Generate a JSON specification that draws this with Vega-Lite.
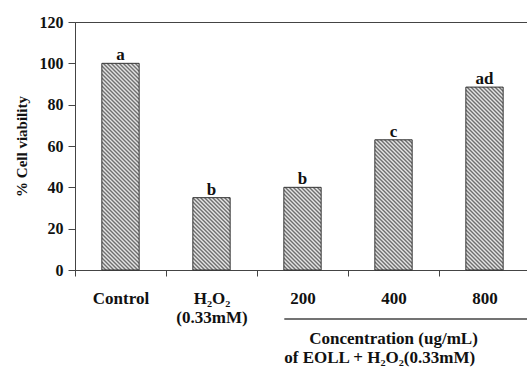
{
 "$schema": "https://vega.github.io/schema/vega-lite/v6.json",
 "width": 455, "height": 248,
 "autosize": "none",
 "padding": {"left": 75, "top": 22, "right": 0, "bottom": 97},
 "background": "white",
 "config": {"view": {"stroke": "#444", "strokeWidth": 1}, "font": "Liberation Serif"},
 "data": {"values": [
   {"group": "Control", "viability": 100, "sig": "a"},
   {"group": "H₂O₂ (0.33mM)", "viability": 35, "sig": "b"},
   {"group": "200", "viability": 40, "sig": "b"},
   {"group": "400", "viability": 63, "sig": "c"},
   {"group": "800", "viability": 88.5, "sig": "ad"}
 ]},
 "layer": [
   {"mark": {"type": "bar", "width": {"band": 0.41}, "stroke": "#333", "strokeWidth": 1},
    "encoding": {
     "x": {"field": "group", "type": "nominal", "sort": null,
       "scale": {"paddingInner": 0, "paddingOuter": 0},
       "axis": {"title": null, "labelAngle": 0, "labelFont": "Liberation Serif", "labelFontSize": 17, "labelFontWeight": "bold", "labelColor": "#111", "labelPadding": 14, "labelBaseline": "top", "labelLineHeight": 19, "labelExpr": "split(datum.label, ' ')", "tickBand": "extent", "tickSize": 6, "tickColor": "#444", "domainColor": "#444", "labelLimit": 0}},
     "y": {"field": "viability", "type": "quantitative",
       "scale": {"domain": [0, 120]},
       "axis": {"values": [0, 20, 40, 60, 80, 100, 120], "title": "% Cell viability", "titleFont": "Liberation Serif", "titleFontSize": 15, "titleFontWeight": "bold", "titleColor": "#111", "titlePadding": 10, "labelFont": "Liberation Serif", "labelFontSize": 16, "labelFontWeight": "bold", "labelColor": "#111", "labelPadding": 5, "tickSize": 7, "tickColor": "#444", "domainColor": "#444", "grid": false}},
     "fill": {
      "condition": [
        {"test": "datum.group === 'Control'", "value": {"gradient": "linear", "x1": 0, "y1": 1, "x2": 0.2114, "y2": -0.1713, "stops": [{"offset":0,"color":"#666"},{"offset":0.008,"color":"#eee"},{"offset":0.016,"color":"#666"},{"offset":0.024,"color":"#eee"},{"offset":0.032,"color":"#666"},{"offset":0.04,"color":"#eee"},{"offset":0.048,"color":"#666"},{"offset":0.056,"color":"#eee"},{"offset":0.064,"color":"#666"},{"offset":0.072,"color":"#eee"},{"offset":0.08,"color":"#666"},{"offset":0.088,"color":"#eee"},{"offset":0.096,"color":"#666"},{"offset":0.104,"color":"#eee"},{"offset":0.112,"color":"#666"},{"offset":0.12,"color":"#eee"},{"offset":0.128,"color":"#666"},{"offset":0.136,"color":"#eee"},{"offset":0.144,"color":"#666"},{"offset":0.152,"color":"#eee"},{"offset":0.16,"color":"#666"},{"offset":0.168,"color":"#eee"},{"offset":0.176,"color":"#666"},{"offset":0.184,"color":"#eee"},{"offset":0.192,"color":"#666"},{"offset":0.2,"color":"#eee"},{"offset":0.208,"color":"#666"},{"offset":0.216,"color":"#eee"},{"offset":0.224,"color":"#666"},{"offset":0.232,"color":"#eee"},{"offset":0.24,"color":"#666"},{"offset":0.248,"color":"#eee"},{"offset":0.256,"color":"#666"},{"offset":0.264,"color":"#eee"},{"offset":0.272,"color":"#666"},{"offset":0.28,"color":"#eee"},{"offset":0.288,"color":"#666"},{"offset":0.296,"color":"#eee"},{"offset":0.304,"color":"#666"},{"offset":0.312,"color":"#eee"},{"offset":0.32,"color":"#666"},{"offset":0.328,"color":"#eee"},{"offset":0.336,"color":"#666"},{"offset":0.344,"color":"#eee"},{"offset":0.352,"color":"#666"},{"offset":0.36,"color":"#eee"},{"offset":0.368,"color":"#666"},{"offset":0.376,"color":"#eee"},{"offset":0.384,"color":"#666"},{"offset":0.392,"color":"#eee"},{"offset":0.4,"color":"#666"},{"offset":0.408,"color":"#eee"},{"offset":0.416,"color":"#666"},{"offset":0.424,"color":"#eee"},{"offset":0.432,"color":"#666"},{"offset":0.44,"color":"#eee"},{"offset":0.448,"color":"#666"},{"offset":0.456,"color":"#eee"},{"offset":0.464,"color":"#666"},{"offset":0.472,"color":"#eee"},{"offset":0.48,"color":"#666"},{"offset":0.488,"color":"#eee"},{"offset":0.496,"color":"#666"},{"offset":0.504,"color":"#eee"},{"offset":0.512,"color":"#666"},{"offset":0.52,"color":"#eee"},{"offset":0.528,"color":"#666"},{"offset":0.536,"color":"#eee"},{"offset":0.544,"color":"#666"},{"offset":0.552,"color":"#eee"},{"offset":0.56,"color":"#666"},{"offset":0.568,"color":"#eee"},{"offset":0.576,"color":"#666"},{"offset":0.584,"color":"#eee"},{"offset":0.592,"color":"#666"},{"offset":0.6,"color":"#eee"},{"offset":0.608,"color":"#666"},{"offset":0.616,"color":"#eee"},{"offset":0.624,"color":"#666"},{"offset":0.632,"color":"#eee"},{"offset":0.64,"color":"#666"},{"offset":0.648,"color":"#eee"},{"offset":0.656,"color":"#666"},{"offset":0.664,"color":"#eee"},{"offset":0.672,"color":"#666"},{"offset":0.68,"color":"#eee"},{"offset":0.688,"color":"#666"},{"offset":0.696,"color":"#eee"},{"offset":0.704,"color":"#666"},{"offset":0.712,"color":"#eee"},{"offset":0.72,"color":"#666"},{"offset":0.728,"color":"#eee"},{"offset":0.736,"color":"#666"},{"offset":0.744,"color":"#eee"},{"offset":0.752,"color":"#666"},{"offset":0.76,"color":"#eee"},{"offset":0.768,"color":"#666"},{"offset":0.776,"color":"#eee"},{"offset":0.784,"color":"#666"},{"offset":0.792,"color":"#eee"},{"offset":0.8,"color":"#666"},{"offset":0.808,"color":"#eee"},{"offset":0.816,"color":"#666"},{"offset":0.824,"color":"#eee"},{"offset":0.832,"color":"#666"},{"offset":0.84,"color":"#eee"},{"offset":0.848,"color":"#666"},{"offset":0.856,"color":"#eee"},{"offset":0.864,"color":"#666"},{"offset":0.872,"color":"#eee"},{"offset":0.88,"color":"#666"},{"offset":0.888,"color":"#eee"},{"offset":0.896,"color":"#666"},{"offset":0.904,"color":"#eee"},{"offset":0.912,"color":"#666"},{"offset":0.92,"color":"#eee"},{"offset":0.928,"color":"#666"},{"offset":0.936,"color":"#eee"},{"offset":0.944,"color":"#666"},{"offset":0.952,"color":"#eee"},{"offset":0.96,"color":"#666"},{"offset":0.968,"color":"#eee"},{"offset":0.976,"color":"#666"},{"offset":0.984,"color":"#eee"}]}},
        {"test": "datum.group === '200'", "value": {"gradient": "linear", "x1": 0, "y1": 1, "x2": 0.5668, "y2": -0.2563, "stops": [{"offset":0,"color":"#666"},{"offset":0.016,"color":"#eee"},{"offset":0.032,"color":"#666"},{"offset":0.048,"color":"#eee"},{"offset":0.064,"color":"#666"},{"offset":0.08,"color":"#eee"},{"offset":0.096,"color":"#666"},{"offset":0.112,"color":"#eee"},{"offset":0.128,"color":"#666"},{"offset":0.144,"color":"#eee"},{"offset":0.16,"color":"#666"},{"offset":0.176,"color":"#eee"},{"offset":0.192,"color":"#666"},{"offset":0.208,"color":"#eee"},{"offset":0.224,"color":"#666"},{"offset":0.24,"color":"#eee"},{"offset":0.256,"color":"#666"},{"offset":0.272,"color":"#eee"},{"offset":0.288,"color":"#666"},{"offset":0.304,"color":"#eee"},{"offset":0.32,"color":"#666"},{"offset":0.336,"color":"#eee"},{"offset":0.352,"color":"#666"},{"offset":0.368,"color":"#eee"},{"offset":0.384,"color":"#666"},{"offset":0.4,"color":"#eee"},{"offset":0.416,"color":"#666"},{"offset":0.432,"color":"#eee"},{"offset":0.448,"color":"#666"},{"offset":0.464,"color":"#eee"},{"offset":0.48,"color":"#666"},{"offset":0.496,"color":"#eee"},{"offset":0.512,"color":"#666"},{"offset":0.528,"color":"#eee"},{"offset":0.544,"color":"#666"},{"offset":0.56,"color":"#eee"},{"offset":0.576,"color":"#666"},{"offset":0.592,"color":"#eee"},{"offset":0.608,"color":"#666"},{"offset":0.624,"color":"#eee"},{"offset":0.64,"color":"#666"},{"offset":0.656,"color":"#eee"},{"offset":0.672,"color":"#666"},{"offset":0.688,"color":"#eee"},{"offset":0.704,"color":"#666"},{"offset":0.72,"color":"#eee"},{"offset":0.736,"color":"#666"},{"offset":0.752,"color":"#eee"},{"offset":0.768,"color":"#666"},{"offset":0.784,"color":"#eee"},{"offset":0.8,"color":"#666"},{"offset":0.816,"color":"#eee"},{"offset":0.832,"color":"#666"},{"offset":0.848,"color":"#eee"},{"offset":0.864,"color":"#666"},{"offset":0.88,"color":"#eee"},{"offset":0.896,"color":"#666"},{"offset":0.912,"color":"#eee"},{"offset":0.928,"color":"#666"},{"offset":0.944,"color":"#eee"},{"offset":0.96,"color":"#666"},{"offset":0.976,"color":"#eee"}]}},
        {"test": "datum.group === '400'", "value": {"gradient": "linear", "x1": 0, "y1": 1, "x2": 0.4067, "y2": -0.4196, "stops": [{"offset":0,"color":"#666"},{"offset":0.01,"color":"#eee"},{"offset":0.02,"color":"#666"},{"offset":0.03,"color":"#eee"},{"offset":0.04,"color":"#666"},{"offset":0.05,"color":"#eee"},{"offset":0.06,"color":"#666"},{"offset":0.07,"color":"#eee"},{"offset":0.08,"color":"#666"},{"offset":0.09,"color":"#eee"},{"offset":0.1,"color":"#666"},{"offset":0.11,"color":"#eee"},{"offset":0.12,"color":"#666"},{"offset":0.13,"color":"#eee"},{"offset":0.14,"color":"#666"},{"offset":0.15,"color":"#eee"},{"offset":0.16,"color":"#666"},{"offset":0.17,"color":"#eee"},{"offset":0.18,"color":"#666"},{"offset":0.19,"color":"#eee"},{"offset":0.2,"color":"#666"},{"offset":0.21,"color":"#eee"},{"offset":0.22,"color":"#666"},{"offset":0.23,"color":"#eee"},{"offset":0.24,"color":"#666"},{"offset":0.25,"color":"#eee"},{"offset":0.26,"color":"#666"},{"offset":0.27,"color":"#eee"},{"offset":0.28,"color":"#666"},{"offset":0.29,"color":"#eee"},{"offset":0.3,"color":"#666"},{"offset":0.31,"color":"#eee"},{"offset":0.32,"color":"#666"},{"offset":0.33,"color":"#eee"},{"offset":0.34,"color":"#666"},{"offset":0.35,"color":"#eee"},{"offset":0.36,"color":"#666"},{"offset":0.37,"color":"#eee"},{"offset":0.38,"color":"#666"},{"offset":0.39,"color":"#eee"},{"offset":0.4,"color":"#666"},{"offset":0.41,"color":"#eee"},{"offset":0.42,"color":"#666"},{"offset":0.43,"color":"#eee"},{"offset":0.44,"color":"#666"},{"offset":0.45,"color":"#eee"},{"offset":0.46,"color":"#666"},{"offset":0.47,"color":"#eee"},{"offset":0.48,"color":"#666"},{"offset":0.49,"color":"#eee"},{"offset":0.5,"color":"#666"},{"offset":0.51,"color":"#eee"},{"offset":0.52,"color":"#666"},{"offset":0.53,"color":"#eee"},{"offset":0.54,"color":"#666"},{"offset":0.55,"color":"#eee"},{"offset":0.56,"color":"#666"},{"offset":0.57,"color":"#eee"},{"offset":0.58,"color":"#666"},{"offset":0.59,"color":"#eee"},{"offset":0.6,"color":"#666"},{"offset":0.61,"color":"#eee"},{"offset":0.62,"color":"#666"},{"offset":0.63,"color":"#eee"},{"offset":0.64,"color":"#666"},{"offset":0.65,"color":"#eee"},{"offset":0.66,"color":"#666"},{"offset":0.67,"color":"#eee"},{"offset":0.68,"color":"#666"},{"offset":0.69,"color":"#eee"},{"offset":0.7,"color":"#666"},{"offset":0.71,"color":"#eee"},{"offset":0.72,"color":"#666"},{"offset":0.73,"color":"#eee"},{"offset":0.74,"color":"#666"},{"offset":0.75,"color":"#eee"},{"offset":0.76,"color":"#666"},{"offset":0.77,"color":"#eee"},{"offset":0.78,"color":"#666"},{"offset":0.79,"color":"#eee"},{"offset":0.8,"color":"#666"},{"offset":0.81,"color":"#eee"},{"offset":0.82,"color":"#666"},{"offset":0.83,"color":"#eee"},{"offset":0.84,"color":"#666"},{"offset":0.85,"color":"#eee"}]}},
        {"test": "datum.group === '800'", "value": {"gradient": "linear", "x1": 0, "y1": 1, "x2": 0.2676, "y2": -0.3123, "stops": [{"offset":0,"color":"#666"},{"offset":0.008,"color":"#eee"},{"offset":0.016,"color":"#666"},{"offset":0.024,"color":"#eee"},{"offset":0.032,"color":"#666"},{"offset":0.04,"color":"#eee"},{"offset":0.048,"color":"#666"},{"offset":0.056,"color":"#eee"},{"offset":0.064,"color":"#666"},{"offset":0.072,"color":"#eee"},{"offset":0.08,"color":"#666"},{"offset":0.088,"color":"#eee"},{"offset":0.096,"color":"#666"},{"offset":0.104,"color":"#eee"},{"offset":0.112,"color":"#666"},{"offset":0.12,"color":"#eee"},{"offset":0.128,"color":"#666"},{"offset":0.136,"color":"#eee"},{"offset":0.144,"color":"#666"},{"offset":0.152,"color":"#eee"},{"offset":0.16,"color":"#666"},{"offset":0.168,"color":"#eee"},{"offset":0.176,"color":"#666"},{"offset":0.184,"color":"#eee"},{"offset":0.192,"color":"#666"},{"offset":0.2,"color":"#eee"},{"offset":0.208,"color":"#666"},{"offset":0.216,"color":"#eee"},{"offset":0.224,"color":"#666"},{"offset":0.232,"color":"#eee"},{"offset":0.24,"color":"#666"},{"offset":0.248,"color":"#eee"},{"offset":0.256,"color":"#666"},{"offset":0.264,"color":"#eee"},{"offset":0.272,"color":"#666"},{"offset":0.28,"color":"#eee"},{"offset":0.288,"color":"#666"},{"offset":0.296,"color":"#eee"},{"offset":0.304,"color":"#666"},{"offset":0.312,"color":"#eee"},{"offset":0.32,"color":"#666"},{"offset":0.328,"color":"#eee"},{"offset":0.336,"color":"#666"},{"offset":0.344,"color":"#eee"},{"offset":0.352,"color":"#666"},{"offset":0.36,"color":"#eee"},{"offset":0.368,"color":"#666"},{"offset":0.376,"color":"#eee"},{"offset":0.384,"color":"#666"},{"offset":0.392,"color":"#eee"},{"offset":0.4,"color":"#666"},{"offset":0.408,"color":"#eee"},{"offset":0.416,"color":"#666"},{"offset":0.424,"color":"#eee"},{"offset":0.432,"color":"#666"},{"offset":0.44,"color":"#eee"},{"offset":0.448,"color":"#666"},{"offset":0.456,"color":"#eee"},{"offset":0.464,"color":"#666"},{"offset":0.472,"color":"#eee"},{"offset":0.48,"color":"#666"},{"offset":0.488,"color":"#eee"},{"offset":0.496,"color":"#666"},{"offset":0.504,"color":"#eee"},{"offset":0.512,"color":"#666"},{"offset":0.52,"color":"#eee"},{"offset":0.528,"color":"#666"},{"offset":0.536,"color":"#eee"},{"offset":0.544,"color":"#666"},{"offset":0.552,"color":"#eee"},{"offset":0.56,"color":"#666"},{"offset":0.568,"color":"#eee"},{"offset":0.576,"color":"#666"},{"offset":0.584,"color":"#eee"},{"offset":0.592,"color":"#666"},{"offset":0.6,"color":"#eee"},{"offset":0.608,"color":"#666"},{"offset":0.616,"color":"#eee"},{"offset":0.624,"color":"#666"},{"offset":0.632,"color":"#eee"},{"offset":0.64,"color":"#666"},{"offset":0.648,"color":"#eee"},{"offset":0.656,"color":"#666"},{"offset":0.664,"color":"#eee"},{"offset":0.672,"color":"#666"},{"offset":0.68,"color":"#eee"},{"offset":0.688,"color":"#666"},{"offset":0.696,"color":"#eee"},{"offset":0.704,"color":"#666"},{"offset":0.712,"color":"#eee"},{"offset":0.72,"color":"#666"},{"offset":0.728,"color":"#eee"},{"offset":0.736,"color":"#666"},{"offset":0.744,"color":"#eee"},{"offset":0.752,"color":"#666"},{"offset":0.76,"color":"#eee"},{"offset":0.768,"color":"#666"},{"offset":0.776,"color":"#eee"},{"offset":0.784,"color":"#666"},{"offset":0.792,"color":"#eee"},{"offset":0.8,"color":"#666"},{"offset":0.808,"color":"#eee"},{"offset":0.816,"color":"#666"},{"offset":0.824,"color":"#eee"},{"offset":0.832,"color":"#666"},{"offset":0.84,"color":"#eee"},{"offset":0.848,"color":"#666"},{"offset":0.856,"color":"#eee"},{"offset":0.864,"color":"#666"},{"offset":0.872,"color":"#eee"},{"offset":0.88,"color":"#666"},{"offset":0.888,"color":"#eee"},{"offset":0.896,"color":"#666"}]}}
      ],
      "value": {"gradient": "linear", "x1": 0, "y1": 1, "x2": 0.704, "y2": -0.3652, "stops": [{"offset":0,"color":"#666"},{"offset":0.016,"color":"#eee"},{"offset":0.032,"color":"#666"},{"offset":0.048,"color":"#eee"},{"offset":0.064,"color":"#666"},{"offset":0.08,"color":"#eee"},{"offset":0.096,"color":"#666"},{"offset":0.112,"color":"#eee"},{"offset":0.128,"color":"#666"},{"offset":0.144,"color":"#eee"},{"offset":0.16,"color":"#666"},{"offset":0.176,"color":"#eee"},{"offset":0.192,"color":"#666"},{"offset":0.208,"color":"#eee"},{"offset":0.224,"color":"#666"},{"offset":0.24,"color":"#eee"},{"offset":0.256,"color":"#666"},{"offset":0.272,"color":"#eee"},{"offset":0.288,"color":"#666"},{"offset":0.304,"color":"#eee"},{"offset":0.32,"color":"#666"},{"offset":0.336,"color":"#eee"},{"offset":0.352,"color":"#666"},{"offset":0.368,"color":"#eee"},{"offset":0.384,"color":"#666"},{"offset":0.4,"color":"#eee"},{"offset":0.416,"color":"#666"},{"offset":0.432,"color":"#eee"},{"offset":0.448,"color":"#666"},{"offset":0.464,"color":"#eee"},{"offset":0.48,"color":"#666"},{"offset":0.496,"color":"#eee"},{"offset":0.512,"color":"#666"},{"offset":0.528,"color":"#eee"},{"offset":0.544,"color":"#666"},{"offset":0.56,"color":"#eee"},{"offset":0.576,"color":"#666"},{"offset":0.592,"color":"#eee"},{"offset":0.608,"color":"#666"},{"offset":0.624,"color":"#eee"},{"offset":0.64,"color":"#666"},{"offset":0.656,"color":"#eee"},{"offset":0.672,"color":"#666"},{"offset":0.688,"color":"#eee"},{"offset":0.704,"color":"#666"},{"offset":0.72,"color":"#eee"},{"offset":0.736,"color":"#666"},{"offset":0.752,"color":"#eee"},{"offset":0.768,"color":"#666"},{"offset":0.784,"color":"#eee"},{"offset":0.8,"color":"#666"},{"offset":0.816,"color":"#eee"},{"offset":0.832,"color":"#666"},{"offset":0.848,"color":"#eee"},{"offset":0.864,"color":"#666"},{"offset":0.88,"color":"#eee"},{"offset":0.896,"color":"#666"}]}
    }}},
   {"mark": {"type": "text", "dy": -3, "baseline": "alphabetic", "font": "Liberation Serif", "fontWeight": "bold", "fontSize": 17, "color": "#111"},
    "encoding": {"x": {"field": "group", "type": "nominal", "sort": null}, "y": {"field": "viability", "type": "quantitative"}, "text": {"field": "sig"}}},
   {"transform": [{"filter": "datum.group === '400'"}],
    "mark": {"type": "rule", "stroke": "#444", "strokeWidth": 1.5, "clip": false},
    "encoding": {"x": {"datum": "200", "bandPosition": 0.3}, "x2": {"value": "width"}, "y": {"datum": -23.7, "type": "quantitative"}}},
   {"transform": [{"filter": "datum.group === '400'"}],
    "mark": {"type": "text", "text": "Concentration (ug/mL)", "align": "center", "baseline": "alphabetic", "font": "Liberation Serif", "fontWeight": "bold", "fontSize": 17, "color": "#111", "clip": false},
    "encoding": {"x": {"field": "group", "type": "nominal", "sort": null}, "y": {"datum": -35.8, "type": "quantitative"}}},
   {"transform": [{"filter": "datum.group === '400'"}],
    "mark": {"type": "text", "text": "of EOLL + H₂O₂(0.33mM)", "align": "left", "baseline": "alphabetic", "font": "Liberation Serif", "fontWeight": "bold", "fontSize": 17, "color": "#111", "clip": false},
    "encoding": {"x": {"datum": "200", "bandPosition": 0.3}, "y": {"datum": -45, "type": "quantitative"}}}
 ]
}
